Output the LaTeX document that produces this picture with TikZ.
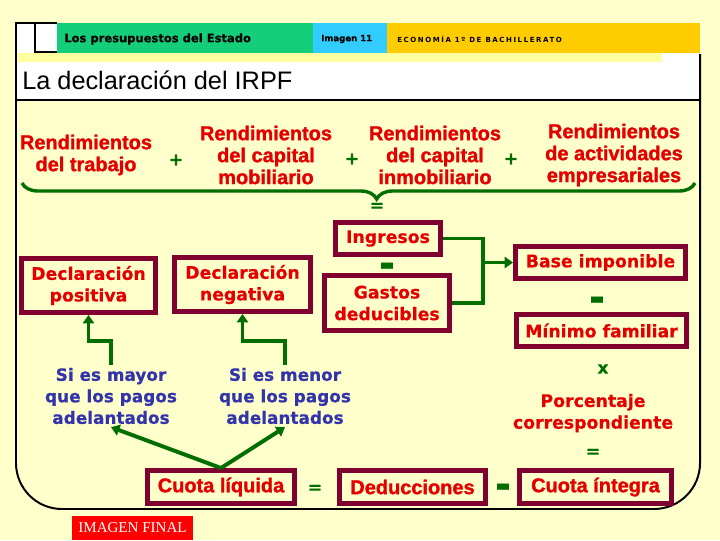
\documentclass[tikz,border=0pt]{standalone}
\usepackage{fontspec}
\setmainfont{Liberation Sans}
\newfontfamily\heavy{Liberation Sans}[BoldFeatures={FakeBold=1.4}]
\newfontfamily\verdana{DejaVu Sans}[BoldFeatures={FakeBold=0.6}]
\newfontfamily\spaced{DejaVu Sans}[LetterSpace=22]
\newfontfamily\serifimg{Liberation Serif}
\usepackage{tikz}
\usetikzlibrary{arrows.meta,positioning,calc,decorations.pathreplacing}
\definecolor{paper}{RGB}{255,255,204}
\definecolor{strip}{RGB}{255,255,160}
\definecolor{hgreen}{RGB}{20,206,122}
\definecolor{hcyan}{RGB}{51,204,255}
\definecolor{horange}{RGB}{255,204,0}
\definecolor{wine}{RGB}{128,0,48}
\definecolor{redtxt}{RGB}{228,0,0}
\definecolor{bluetxt}{RGB}{51,51,170}
\definecolor{grn}{RGB}{0,110,0}
\newcommand\thickbar{\scalebox{1.8}[1.9]{-}}

\begin{document}
\begin{tikzpicture}[
    x=0.025cm, y=-0.025cm,
    box/.style={draw=wine, line width=3.5pt, fill=paper, text=redtxt, align=center, inner sep=0pt},
    wide/.style={font=\verdana\bfseries\fontsize{12.3}{15.4}\selectfont},
    narrow/.style={font=\heavy\bfseries\fontsize{14.2}{15.6}\selectfont},
    rend/.style={narrow, text=redtxt, align=center},
    cond/.style={wide, text=bluetxt, align=center, inner sep=2pt, font=\verdana\bfseries\fontsize{12}{15.3}\selectfont},
    sign/.style={text=grn, font=\verdana\bfseries\fontsize{12}{12}\selectfont, inner sep=0pt},
    bar/.style={sign, font=\verdana\bfseries\fontsize{15}{15}\selectfont},
    frame/.style={line width=1.4pt},
    link/.style={draw=grn, line width=2.8pt},
    arr/.style={link, -{Triangle[length=6pt, width=8pt]}},
    hdr/.style={anchor=west, inner sep=0pt}
]
% fondo y cabecera
\fill[paper] (0,0) rectangle (720,540);
\fill[white] (16,23) rectangle (57,53);
\fill[hgreen] (57,23) rectangle (313,53);
\fill[hcyan] (313,23) rectangle (387,53);
\fill[horange] (387,23) rectangle (700,53);
\fill[strip] (16,53) rectangle (662,62);
\fill[white] (662,53) rectangle (700,62);
\fill[white] (16,62) rectangle (700,100);
\draw[frame] (57,23) -- (16,23) -- (16,70);
\draw[frame, rounded corners=1.15cm] (16,60) -- (16,509) -- (700,509) -- (700,54);
\draw[frame] (35,23) -- (35,52) -- (57,52);
\draw[frame] (16,100) -- (700,100);

\node[hdr, font=\verdana\bfseries\fontsize{8.2}{10}\selectfont] (tema) at (64,39) {Los presupuestos del Estado};
\node[hdr, font=\verdana\bfseries\fontsize{6.1}{8}\selectfont] (imagen) at (321,39) {Imagen 11};
\node[hdr, font=\spaced\bfseries\fontsize{5}{7}\selectfont] (curso) at (397,39) {ECONOMÍA 1º DE BACHILLERATO};
\node[anchor=base west, inner sep=0pt, font=\fontsize{18}{20}\selectfont] (titulo) at (22,89) {La declaración del IRPF};

% rendimientos
\node[rend] (trab) at (86,155) {Rendimientos\\del trabajo};
\node[rend] (mob) at (266,155) {Rendimientos\\del capital\\mobiliario};
\node[rend] (inm) at (435,155) {Rendimientos\\del capital\\inmobiliario};
\node[rend] (emp) at (614,155) {Rendimientos\\de actividades\\empresariales};
\node[sign] (mas1) at (176,160) {+};
\node[sign] (mas2) at (352,159) {+};
\node[sign] (mas3) at (511,159) {+};
\coordinate (bl) at (22,183);
\coordinate (br) at (695,183);
\draw[grn, line width=2.4pt, decorate, decoration={brace, mirror, amplitude=0.4cm, aspect=0.527}] (bl) -- (br);
\node[sign] (igual1) at (377,207) {=};

% base imponible
\node[box, wide, minimum width=105*0.025cm, minimum height=32*0.025cm] (ing) at (388,238.5) {Ingresos};
\node[bar] (menos1) at (387,270) {\thickbar};
\node[box, wide, minimum width=125*0.025cm, minimum height=55*0.025cm] (gas) at (387,303) {Gastos\\deducibles};
\node[box, wide, minimum width=170*0.025cm, minimum height=32*0.025cm] (base) at (600.5,262.5) {Base imponible};
\node[bar] (menos2) at (597,304) {\thickbar};
\node[box, wide, minimum width=170*0.025cm, minimum height=32*0.025cm] (min) at (601.5,330.5) {Mínimo familiar};
\node[sign] (por) at (603,369) {x};
\node[rend, wide] (pct) at (593,413) {Porcentaje\\correspondiente};
\node[sign] (igual2) at (593,453) {=};

\coordinate (join) at (483,0 |- base.west);
\draw[link] (ing.east) -| (join);
\draw[link] (gas.east) -| (join);
\draw[arr] (join) -- (base.west);

% declaraciones
\node[box, wide, minimum width=134*0.025cm, minimum height=54*0.025cm] (pos) at (88.5,285.5) {Declaración\\positiva};
\node[box, wide, minimum width=136*0.025cm, minimum height=54*0.025cm] (neg) at (242.5,284.5) {Declaración\\negativa};
\node[cond] (may) at (111,396) {Si es mayor\\que los pagos\\adelantados};
\node[cond] (men) at (285,396) {Si es menor\\que los pagos\\adelantados};
\draw[arr] (may.north) -- ++(0,-24) -| (pos.south);
\draw[arr] (men.north) -- ++(0,-24) -| (neg.south);

% cuotas
\node[box, narrow, minimum width=147*0.025cm, minimum height=33*0.025cm] (liq) at (221,487) {Cuota líquida};
\node[sign] (igual3) at (315,489) {=};
\node[box, narrow, minimum width=146*0.025cm, minimum height=33*0.025cm] (ded) at (412.5,487) {Deducciones};
\node[bar] (menos3) at (503,491) {\thickbar};
\node[box, narrow, minimum width=152*0.025cm, minimum height=33*0.025cm] (int) at (595.5,487) {Cuota íntegra};
\draw[arr] (liq.north) -- (may.south);
\draw[arr] (liq.north) -- (men.south);

\node[fill=red, text=white, inner sep=0pt, minimum width=121*0.025cm, minimum height=24*0.025cm, font=\serifimg\fontsize{10.7}{12}\selectfont] (final) at (132.5,528) {IMAGEN FINAL};
\end{tikzpicture}
\end{document}
